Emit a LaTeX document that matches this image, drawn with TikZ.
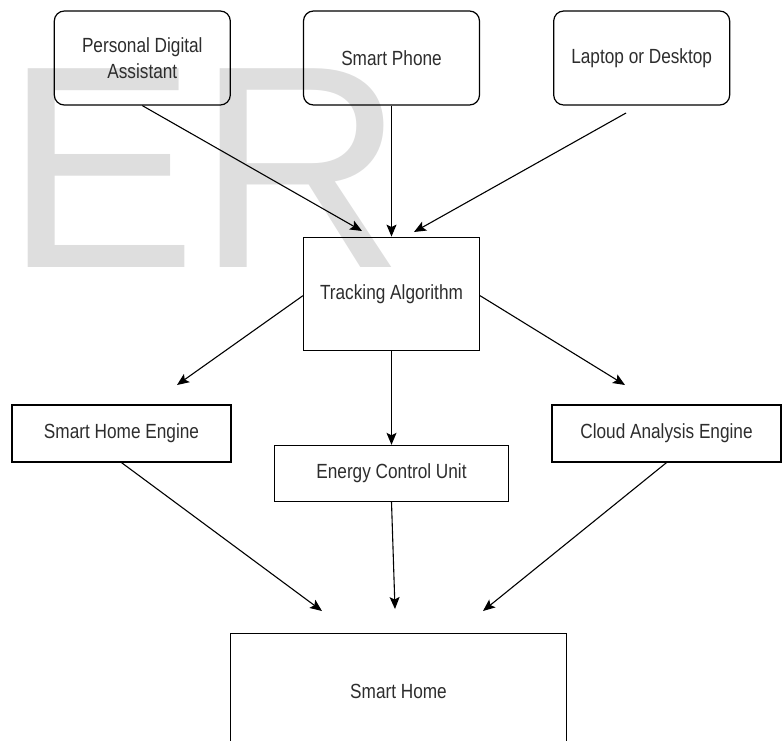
\documentclass[tikz,border=0pt]{standalone}
\usepackage{fontspec}
\setmainfont{Liberation Sans}[FakeStretch=0.84]
\newfontfamily\wmfont{Liberation Sans}
\usetikzlibrary{arrows.meta,positioning}
\definecolor{wmark}{RGB}{222,222,222}
\definecolor{ink}{RGB}{45,45,45}

\begin{document}
\begin{tikzpicture}[
  x=1pt,y=-1pt,
  font=\fontsize{20.5}{26}\selectfont,
  node distance=72pt,
  dev/.style={draw,line width=1.2pt,rounded corners=10pt,minimum width=176pt,
              minimum height=94pt,align=center,text=ink},
  blk/.style={draw,line width=1.2pt,minimum height=57pt,align=center,text=ink},
  arr/.style={-{Stealth[length=12pt,width=10pt,inset=2.5pt]},line width=1.1pt},
]
\useasboundingbox (0,0) rectangle (782,740);
% watermark
\node[anchor=base west,inner sep=0pt,text=wmark,font=\wmfont\fontsize{289}{289}\selectfont] (wm) at (4,267) {ER};
% Devices
\node[dev] (phone) at (391.5,58) {Smart Phone};
\node[dev,left=72pt of phone] (pda) {Personal Digital\\Assistant};
\node[dev,right=73pt of phone] (laptop) {Laptop or Desktop};
% Tracking
\node[blk,minimum width=176pt,minimum height=113pt,below=131pt of phone] (track) {Tracking Algorithm};
% Engines
\node[blk,minimum width=234pt,minimum height=56pt,below=94pt of track] (ecu) {Energy Control Unit};
\node[blk,minimum width=219pt] (she) at (121.5,433.5) {Smart Home Engine};
\node[blk,minimum width=229pt] (cloud) at (666.5,433.5) {Cloud Analysis Engine};
% Home
\node[blk,minimum width=336pt,minimum height=116pt,below=131pt of ecu,xshift=7pt] (home) {Smart Home};
% free arrow ends
\coordinate (pdaTip) at (362,231);
\coordinate (lapTail) at (626,113);
\coordinate (lapTip) at (414,232);
\coordinate (sheTip) at (177,385);
\coordinate (cloudTip) at (625,385);
\coordinate (homeL) at (322,611);
\coordinate (homeM) at (395,609);
\coordinate (homeR) at (483,611);
% arrows into tracking
\draw[arr] (pda.south) -- (pdaTip);
\draw[arr] (phone.south) -- (track.north);
\draw[arr] (lapTail) -- (lapTip);
% arrows out of tracking
\draw[arr] ([yshift=-2pt]track.west) -- (sheTip);
\draw[arr] (track.south) -- (ecu.north);
\draw[arr] ([yshift=-2pt]track.east) -- (cloudTip);
% arrows into home
\draw[arr] (she.south) -- (homeL);
\draw[arr] (ecu.south) -- (homeM);
\draw[arr] (cloud.south) -- (homeR);
\end{tikzpicture}
\end{document}
